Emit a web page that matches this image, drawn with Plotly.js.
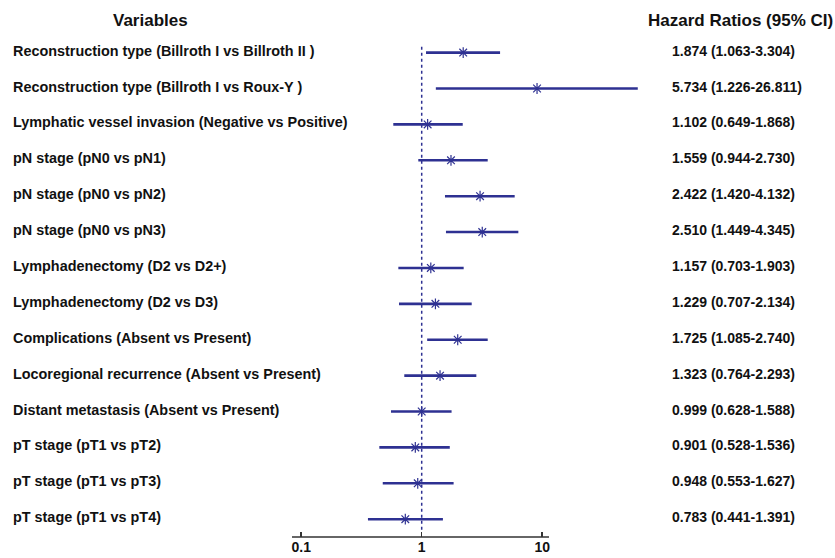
<!DOCTYPE html>
<html>
<head>
<meta charset="utf-8">
<script src="https://cdn.plot.ly/plotly-3.0.1.min.js"></script>
<style>html,body{margin:0;padding:0;background:#fff;}#chart{width:835px;height:558px;}</style>
</head>
<body>
<div id="chart"></div>
<script>
// Row labels (top to bottom)
var variables = [
  "Reconstruction type (Billroth I vs Billroth II )",
  "Reconstruction type (Billroth I vs Roux-Y )",
  "Lymphatic vessel invasion (Negative vs Positive)",
  "pN stage (pN0 vs pN1)",
  "pN stage (pN0 vs pN2)",
  "pN stage (pN0 vs pN3)",
  "Lymphadenectomy (D2 vs D2+)",
  "Lymphadenectomy (D2 vs D3)",
  "Complications (Absent vs Present)",
  "Locoregional recurrence (Absent vs Present)",
  "Distant metastasis (Absent vs Present)",
  "pT stage (pT1 vs pT2)",
  "pT stage (pT1 vs pT3)",
  "pT stage (pT1 vs pT4)"
];
var hrLabels = [
  "1.874 (1.063-3.304)",
  "5.734 (1.226-26.811)",
  "1.102 (0.649-1.868)",
  "1.559 (0.944-2.730)",
  "2.422 (1.420-4.132)",
  "2.510 (1.449-4.345)",
  "1.157 (0.703-1.903)",
  "1.229 (0.707-2.134)",
  "1.725 (1.085-2.740)",
  "1.323 (0.764-2.293)",
  "0.999 (0.628-1.588)",
  "0.901 (0.528-1.536)",
  "0.948 (0.553-1.627)",
  "0.783 (0.441-1.391)"
];
// Values as drawn against the plotted axis
var hrPoint = [2.21, 9.06, 1.12, 1.75, 3.05, 3.18, 1.19, 1.30, 1.99, 1.42, 1.00, 0.885, 0.927, 0.731];
var ciLow   = [1.086, 1.31, 0.581, 0.937, 1.56, 1.59, 0.640, 0.648, 1.11, 0.717, 0.556, 0.445, 0.475, 0.358];
var ciHigh  = [4.47, 62.1, 2.19, 3.53, 5.91, 6.34, 2.23, 2.60, 3.53, 2.84, 1.77, 1.71, 1.84, 1.50];
var tickVals = [0.1, 1, 10];
var tickText = ["0.1", "1", "10"];
var refValue = 1;

var navy = "#2e3192";
var n = variables.length;
var rowY = variables.map(function(_, i){ return n - i; });
var errPlus = hrPoint.map(function(v, i){ return ciHigh[i] - v; });
var errMinus = hrPoint.map(function(v, i){ return v - ciLow[i]; });

var font = "Liberation Sans, Arial, sans-serif";

var traces = [
  {
    x: [refValue, refValue], y: [n + 0.16, 0.70],
    mode: "lines", type: "scatter",
    line: {color: navy, width: 1.5, dash: "dot"},
    hoverinfo: "skip", showlegend: false
  },
  {
    x: hrPoint, y: rowY, type: "scatter", mode: "markers",
    marker: {symbol: "asterisk-open", size: 9, color: navy, line: {color: navy, width: 1.2}},
    error_x: {type: "data", symmetric: false, array: errPlus, arrayminus: errMinus,
              color: navy, thickness: 2.6, width: 0},
    showlegend: false
  }
];

var annotations = [];
variables.forEach(function(t, i){
  annotations.push({xref: "paper", yref: "y", x: -0.7863, y: rowY[i], yshift: 2,
    xanchor: "left", yanchor: "middle", text: t, showarrow: false,
    font: {family: font, size: 14.4, color: "#111", weight: "bold"}});
  annotations.push({xref: "paper", yref: "y", x: 1.0559, y: rowY[i], yshift: 2,
    xanchor: "left", yanchor: "middle", text: hrLabels[i], showarrow: false,
    font: {family: font, size: 14, color: "#111", weight: "bold"}});
});
annotations.push({xref: "paper", yref: "paper", x: -0.394, y: 1.0197, xanchor: "center", yanchor: "middle",
  text: "Variables", showarrow: false, font: {family: font, size: 17, color: "#111", weight: "bold"}});
annotations.push({xref: "paper", yref: "paper", x: 1.2514, y: 1.0197, xanchor: "center", yanchor: "middle",
  text: "Hazard Ratios (95% CI)", showarrow: false, font: {family: font, size: 17, color: "#111", weight: "bold"}});

var layout = {
  width: 835, height: 558,
  margin: {l: 292, r: 185, t: 30, b: 21},
  paper_bgcolor: "#fff", plot_bgcolor: "#fff",
  showlegend: false,
  xaxis: {
    type: "log", range: [-1.0764, 1.8946],
    tickvals: tickVals, ticktext: tickText,
    ticks: "inside", ticklen: 5, tickwidth: 1.5, tickcolor: "#333",
    showline: false, showgrid: false, zeroline: false,
    tickfont: {family: font, size: 14, color: "#111", weight: "bold"}
  },
  yaxis: {
    range: [0.504, 14.63], showticklabels: false, showgrid: false,
    zeroline: false, showline: false, ticks: ""
  },
  shapes: [
    {type: "line", xref: "paper", yref: "paper", x0: 0, x1: 0.7179, y0: 0, y1: 0,
     line: {color: "#333", width: 1.5}}
  ],
  annotations: annotations
};

Plotly.newPlot("chart", traces, layout, {displayModeBar: false, staticPlot: true});
</script>
</body>
</html>
